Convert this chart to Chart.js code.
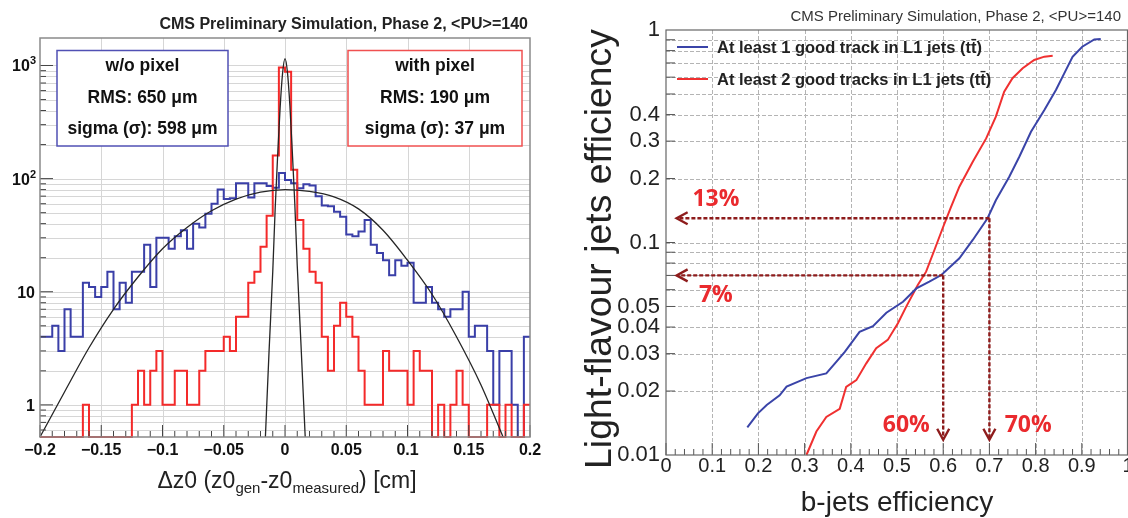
<!DOCTYPE html>
<html><head><meta charset="utf-8">
<script src="https://cdn.jsdelivr.net/npm/chart.js@4.4.1/dist/chart.umd.min.js"></script>
<style>
html,body{margin:0;padding:0;background:#fff;}
#wrap{position:relative;width:1128px;height:518px;overflow:hidden;background:#fff;}
#c1{position:absolute;left:0;top:0;}
#c2{position:absolute;left:560px;top:0;}
</style></head><body>
<div id="wrap"><canvas id="c1" width="560" height="518"></canvas><canvas id="c2" width="568" height="518"></canvas></div>
<script>
// ---------------- DATA: left panel (dz0 resolution) ----------------
const binLow = -0.2, binHigh = 0.2;
const blueCounts = [4,4,5,3,7,4,4,12,11,9, 11,15,7,12,8,15,15,26,11,30,
  30,24,31,35,24,40,37,49,60,80, 66,67,91,91,68,91,91,86,83,112,
  97,91,82,89,87,70,58,57,51,46, 32,31,34,43,26,22,19,14,19,17,
  18,8,8,11,8,7,6,7,7,10, 4,5,5,3,1,3,3,1,0,4];
const redCounts = [0,0,0,0,0,0,0,1,0,0, 0,0,0,0,0,1,2,1,2,3,
  1,1,2,2,1,1,2,3,3,3, 4,3,6,6,12,15,25,47,160,960,
  880,120,43,24,15,12,4,2,5,8, 6,4,2,1,1,1,3,2,2,2,
  1,3,2,2,0,1,0,1,2,1, 0,0,0,1,1,0,1,0,0,1];
const fitWideX = [-0.2,-0.18,-0.16,-0.14,-0.12,-0.1,-0.08,-0.06,-0.04,-0.02,0,0.02,0.04,0.06,0.08,0.1,0.12,0.14,0.16,0.178];
const fitWideY = [0.52,1.3,3.2,7.0,13.5,24,37,52,66,76,80,77,69,54,35,19,9.5,4,1.5,0.52];
const fitNarrowX = [-0.016,-0.013,-0.01,-0.008,-0.006,-0.004,-0.002,0,0.002,0.004,0.006,0.008,0.01,0.013,0.0165];
const fitNarrowY = [0.52,3,15,55,160,420,850,1150,870,440,170,60,17,3.5,0.52];
const leftXTicks = [-0.2,-0.15,-0.1,-0.05,0,0.05,0.1,0.15,0.2];
const leftXTickLabels = ['\u22120.2','\u22120.15','\u22120.1','\u22120.05','0','0.05','0.1','0.15','0.2'];
const leftYTicks = [1,10,100,1000];
const leftYMin = 0.52, leftYMax = 1750;

// ---------------- DATA: right panel (b-tag performance) ----------------
const bEff1 = [0.176,0.199,0.218,0.246,0.261,0.304,0.347,0.369,0.387,0.419,0.448,0.477,0.513,0.542,0.570,0.596,0.635,0.664,0.696,0.714,0.743,0.765,0.790,0.819,0.844,0.862,0.880,0.901,0.927,0.941];
const lightEff1 = [0.0135,0.0157,0.0172,0.0191,0.0210,0.0230,0.0242,0.0275,0.0306,0.038,0.0404,0.0467,0.0526,0.0608,0.0654,0.0703,0.0843,0.1028,0.130,0.158,0.204,0.254,0.332,0.420,0.522,0.625,0.748,0.834,0.903,0.908];
const bEff2 = [0.304,0.3255,0.347,0.376,0.390,0.412,0.4335,0.455,0.480,0.502,0.520,0.545,0.563,0.581,0.599,0.617,0.635,0.664,0.693,0.714,0.732,0.750,0.772,0.797,0.819,0.837];
const lightEff2 = [0.0100,0.0129,0.0151,0.0165,0.0209,0.0225,0.0270,0.0318,0.0348,0.0417,0.0499,0.0631,0.0729,0.0922,0.117,0.147,0.183,0.240,0.309,0.391,0.513,0.593,0.661,0.723,0.749,0.757];
const rightXTicks = [0,0.1,0.2,0.3,0.4,0.5,0.6,0.7,0.8,0.9,1];
const rightXTickLabels = ['0','0.1','0.2','0.3','0.4','0.5','0.6','0.7','0.8','0.9','1'];
const rightYTicks = [0.01,0.02,0.03,0.04,0.05,0.1,0.2,0.3,0.4,1];
const rightYTickLabels = ['0.01','0.02','0.03','0.04','0.05','0.1','0.2','0.3','0.4','1'];
const wpEff = [0.6, 0.7];          // working points (b-jet efficiency)
const wpLight = [0.07, 0.13];      // corresponding light-jet efficiency
const wpEffLabels = ['60%','70%'];
const wpLightLabels = ['7%','13%'];

// ---------------- helpers ----------------
const FONT = '"Liberation Sans", Arial, Helvetica, sans-serif';
function histPoints(counts){
  const w = (binHigh-binLow)/counts.length, pts=[];
  for(let i=0;i<counts.length;i++) pts.push({x:binLow+i*w, y:Math.max(counts[i], leftYMin)});
  pts.push({x:binHigh, y:Math.max(counts[counts.length-1], leftYMin)});
  return pts;
}
function xy(xs, ys){ return xs.map((x,i)=>({x, y:ys[i]})); }
function minorLogs(lo, hi){ const out=[]; for(let d=Math.floor(Math.log10(lo)); d<=Math.ceil(Math.log10(hi)); d++){ for(let m=1;m<10;m++){ const v=m*Math.pow(10,d); if(v>lo*1.0001 && v<hi*0.9999) out.push(v);} } return out; }
function seg(ctx,x0,y0,x1,y1){ ctx.beginPath(); ctx.moveTo(x0,y0); ctx.lineTo(x1,y1); ctx.stroke(); }
function drawParts(ctx, parts, cx, baseY, align){
  let total=0; parts.forEach(p=>{ ctx.font=p.font; p.w=ctx.measureText(p.t).width; total+=p.w; });
  let x = align==='right' ? cx-total : (align==='left'? cx : cx-total/2);
  ctx.textAlign='left'; ctx.textBaseline='alphabetic';
  parts.forEach(p=>{ ctx.font=p.font; ctx.fillText(p.t, x, baseY+(p.dy||0)); x+=p.w; });
}

// ---------------- left chart decorations ----------------
const leftDecor = {
  id:'leftDecor',
  beforeDatasetsDraw(chart){
    const {ctx, chartArea:a, scales:{x,y}} = chart;
    ctx.save(); ctx.strokeStyle='#d6d6d6'; ctx.lineWidth=1;
    leftXTicks.slice(1,-1).forEach(v=>{ const p=Math.round(x.getPixelForValue(v))+0.5; seg(ctx,p,a.top,p,a.bottom); });
    minorLogs(leftYMin,leftYMax).forEach(v=>{ const p=Math.round(y.getPixelForValue(v))+0.5; seg(ctx,a.left,p,a.right,p); });
    ctx.restore();
  },
  afterDraw(chart){
    const {ctx, chartArea:a, scales:{x,y}} = chart;
    ctx.save();
    ctx.strokeStyle='#444'; ctx.lineWidth=1;
    for(let i=0;i<=40;i++){ const v=binLow+i*0.01; const p=x.getPixelForValue(v); const L=(i%5===0)?12:6; seg(ctx,p,a.bottom,p,a.bottom-L); }
    minorLogs(leftYMin,leftYMax).forEach(v=>{ const p=y.getPixelForValue(v); const major=leftYTicks.includes(v); seg(ctx,a.left,p,a.left+(major?13:6),p); });
    ctx.strokeStyle='#8a8a8a'; ctx.lineWidth=1.5;
    ctx.strokeRect(a.left, a.top, a.right-a.left, a.bottom-a.top);
    ctx.fillStyle='#111'; ctx.font='bold 16px '+FONT; ctx.textAlign='center'; ctx.textBaseline='middle';
    leftXTicks.forEach((v,i)=>{ ctx.fillText(leftXTickLabels[i], x.getPixelForValue(v), 451); });
    const sup=['','','2','3'];
    leftYTicks.forEach((v,i)=>{
      const p=y.getPixelForValue(v)+6;
      if(i<2) drawParts(ctx,[{t:String(v),font:'bold 16px '+FONT}],35,p,'right');
      else drawParts(ctx,[{t:'10',font:'bold 16px '+FONT},{t:sup[i],font:'bold 11px '+FONT,dy:-7}],36,p,'right');
    });
    ctx.fillStyle='#222';
    drawParts(ctx,[
      {t:'\u0394z0 (z0',font:'23px '+FONT},{t:'gen',font:'15px '+FONT,dy:5},
      {t:'-z0',font:'23px '+FONT},{t:'measured',font:'15px '+FONT,dy:5},
      {t:') [cm]',font:'23px '+FONT}], 287, 488, 'center');
    ctx.font='bold 16px '+FONT; ctx.textAlign='right'; ctx.textBaseline='middle'; ctx.fillStyle='#222';
    ctx.fillText('CMS Preliminary Simulation, Phase 2, <PU>=140', 528, 25);
    const boxes=[{x:57,w:171,c:'#5050b4',l:['w/o pixel','RMS: 650 \u03bcm','sigma (\u03c3): 598 \u03bcm']},
                 {x:348,w:174,c:'#f05050',l:['with pixel','RMS: 190 \u03bcm','sigma (\u03c3): 37 \u03bcm']}];
    boxes.forEach(b=>{
      ctx.fillStyle='#fff'; ctx.fillRect(b.x,50.5,b.w,95.5);
      ctx.strokeStyle=b.c; ctx.lineWidth=1.5; ctx.strokeRect(b.x,50.5,b.w,95.5);
      ctx.fillStyle='#111'; ctx.font='bold 17.5px '+FONT; ctx.textAlign='center'; ctx.textBaseline='middle';
      [66,98,129].forEach((yy,k)=>ctx.fillText(b.l[k], b.x+b.w/2, yy));
    });
    ctx.restore();
  }
};

new Chart(document.getElementById('c1'), {
  type:'line',
  data:{datasets:[
    {label:'fit with pixel', data:xy(fitNarrowX,fitNarrowY), borderColor:'#262626', borderWidth:1.3, pointRadius:0, cubicInterpolationMode:'monotone', order:0, clip:3},
    {label:'fit w/o pixel', data:xy(fitWideX,fitWideY), borderColor:'#262626', borderWidth:1.3, pointRadius:0, cubicInterpolationMode:'monotone', order:0, clip:3},
    {label:'with pixel', data:histPoints(redCounts), stepped:true, borderColor:'#f42a2a', borderWidth:2, pointRadius:0, order:1, clip:3},
    {label:'w/o pixel', data:histPoints(blueCounts), stepped:true, borderColor:'#3a3fa8', borderWidth:2, pointRadius:0, order:2, clip:3}
  ]},
  options:{responsive:false, animation:false, devicePixelRatio:1,
    layout:{padding:{left:40,right:30,top:38,bottom:81}},
    plugins:{legend:{display:false}, tooltip:{enabled:false}},
    scales:{x:{type:'linear',min:binLow,max:binHigh,display:false}, y:{type:'logarithmic',min:leftYMin,max:leftYMax,display:false}}
  },
  plugins:[leftDecor]
});

// ---------------- right chart decorations ----------------
function chevron(ctx, tx, ty, dir){
  ctx.beginPath();
  if(dir==='left'){ ctx.moveTo(tx+11,ty-6); ctx.lineTo(tx,ty); ctx.lineTo(tx+11,ty+6); }
  else { ctx.moveTo(tx-6,ty-11); ctx.lineTo(tx,ty); ctx.lineTo(tx+6,ty-11); }
  ctx.stroke();
}
const rightDecor = {
  id:'rightDecor',
  beforeDatasetsDraw(chart){
    const {ctx, chartArea:a, scales:{x,y}} = chart;
    ctx.save(); ctx.strokeStyle='#b4b4b4'; ctx.lineWidth=1; ctx.setLineDash([4,2]);
    rightXTicks.slice(1,-1).forEach(v=>{ const p=Math.round(x.getPixelForValue(v))+0.5; seg(ctx,p,a.top,p,a.bottom); });
    minorLogs(0.01,1).forEach(v=>{ const p=Math.round(y.getPixelForValue(v))+0.5; seg(ctx,a.left,p,a.right,p); });
    ctx.restore();
  },
  afterDraw(chart){
    const {ctx, chartArea:a, scales:{x,y}} = chart;
    ctx.save();
    ctx.strokeStyle='#555'; ctx.lineWidth=1;
    for(let i=0;i<=50;i++){ const p=x.getPixelForValue(i*0.02); seg(ctx,p,a.bottom,p,a.bottom-((i%5===0)?12:6)); }
    minorLogs(0.01,1).forEach(v=>{ const p=y.getPixelForValue(v); seg(ctx,a.left,p,a.left+9,p); });
    ctx.strokeStyle='#666'; ctx.lineWidth=1.2;
    ctx.strokeRect(a.left, a.top, a.right-a.left-0.5, a.bottom-a.top);
    ctx.fillStyle='#222'; ctx.font='20px '+FONT; ctx.textAlign='center'; ctx.textBaseline='middle';
    rightXTicks.forEach((v,i)=>ctx.fillText(rightXTickLabels[i], x.getPixelForValue(v), 466));
    ctx.font='22px '+FONT; ctx.textAlign='right';
    rightYTicks.forEach((v,i)=>ctx.fillText(rightYTickLabels[i], a.left-6, y.getPixelForValue(v)));
    ctx.font='28px '+FONT; ctx.textAlign='center'; ctx.textBaseline='middle';
    ctx.fillText('b-jets efficiency', (a.left+a.right)/2, 503);
    // y title sized to span the reference length
    const yt='Light-flavour jets efficiency';
    ctx.font='30px '+FONT; const fs=30*440/ctx.measureText(yt).width;
    ctx.font=fs.toFixed(1)+'px '+FONT;
    ctx.save(); ctx.translate(41, 249); ctx.rotate(-Math.PI/2); ctx.fillText(yt, 0, 0); ctx.restore();
    ctx.font='15px '+FONT; ctx.textAlign='right'; ctx.fillStyle='#333';
    ctx.fillText('CMS Preliminary Simulation, Phase 2, <PU>=140', 561, 17);
    const leg=[{c:'#3a44a8',t:'At least 1 good track in L1 jets (tt\u0304)',yy:47},{c:'#f03030',t:'At least 2 good tracks in L1 jets (tt\u0304)',yy:79}];
    leg.forEach(l=>{ ctx.strokeStyle=l.c; ctx.lineWidth=2; seg(ctx,a.left+11,l.yy,a.left+42,l.yy);
      ctx.fillStyle='#222'; ctx.font='bold 16.5px '+FONT; ctx.textAlign='left'; ctx.fillText(l.t, a.left+51, l.yy+1); });
    ctx.strokeStyle='#8e1c1c'; ctx.lineWidth=2.4;
    const tipX = x.getPixelForValue(0.023), tipY = y.getPixelForValue(0.0118);
    wpEff.forEach((e,i)=>{
      const px=x.getPixelForValue(e), py=y.getPixelForValue(wpLight[i]);
      ctx.setLineDash([4,2]); seg(ctx,px,py,tipX+1,py); seg(ctx,px,py,px,tipY-1);
      ctx.setLineDash([]); chevron(ctx,tipX,py,'left'); chevron(ctx,px,tipY,'down');
    });
    ctx.fillStyle='#ea2a2e'; ctx.font='bold 23px "Open Sans", '+FONT; ctx.textAlign='center'; ctx.textBaseline='middle';
    ctx.fillText(wpLightLabels[1], x.getPixelForValue(0.108), y.getPixelForValue(0.16));
    ctx.fillText(wpLightLabels[0], x.getPixelForValue(0.108), y.getPixelForValue(0.0564));
    ctx.fillText(wpEffLabels[0], x.getPixelForValue(0.52), y.getPixelForValue(0.0137));
    ctx.fillText(wpEffLabels[1], x.getPixelForValue(0.784), y.getPixelForValue(0.0137));
    ctx.restore();
  }
};

new Chart(document.getElementById('c2'), {
  type:'line',
  data:{datasets:[
    {label:'At least 1 good track in L1 jets', data:xy(bEff1,lightEff1), borderColor:'#3a44a8', borderWidth:2, pointRadius:0, tension:0, clip:3},
    {label:'At least 2 good tracks in L1 jets', data:xy(bEff2,lightEff2), borderColor:'#f03030', borderWidth:2, pointRadius:0, tension:0, clip:3}
  ]},
  options:{responsive:false, animation:false, devicePixelRatio:1,
    layout:{padding:{left:106,right:0,top:30,bottom:63}},
    plugins:{legend:{display:false}, tooltip:{enabled:false}},
    scales:{x:{type:'linear',min:0,max:1,display:false}, y:{type:'logarithmic',min:0.01,max:1,display:false}}
  },
  plugins:[rightDecor]
});
</script></body></html>
